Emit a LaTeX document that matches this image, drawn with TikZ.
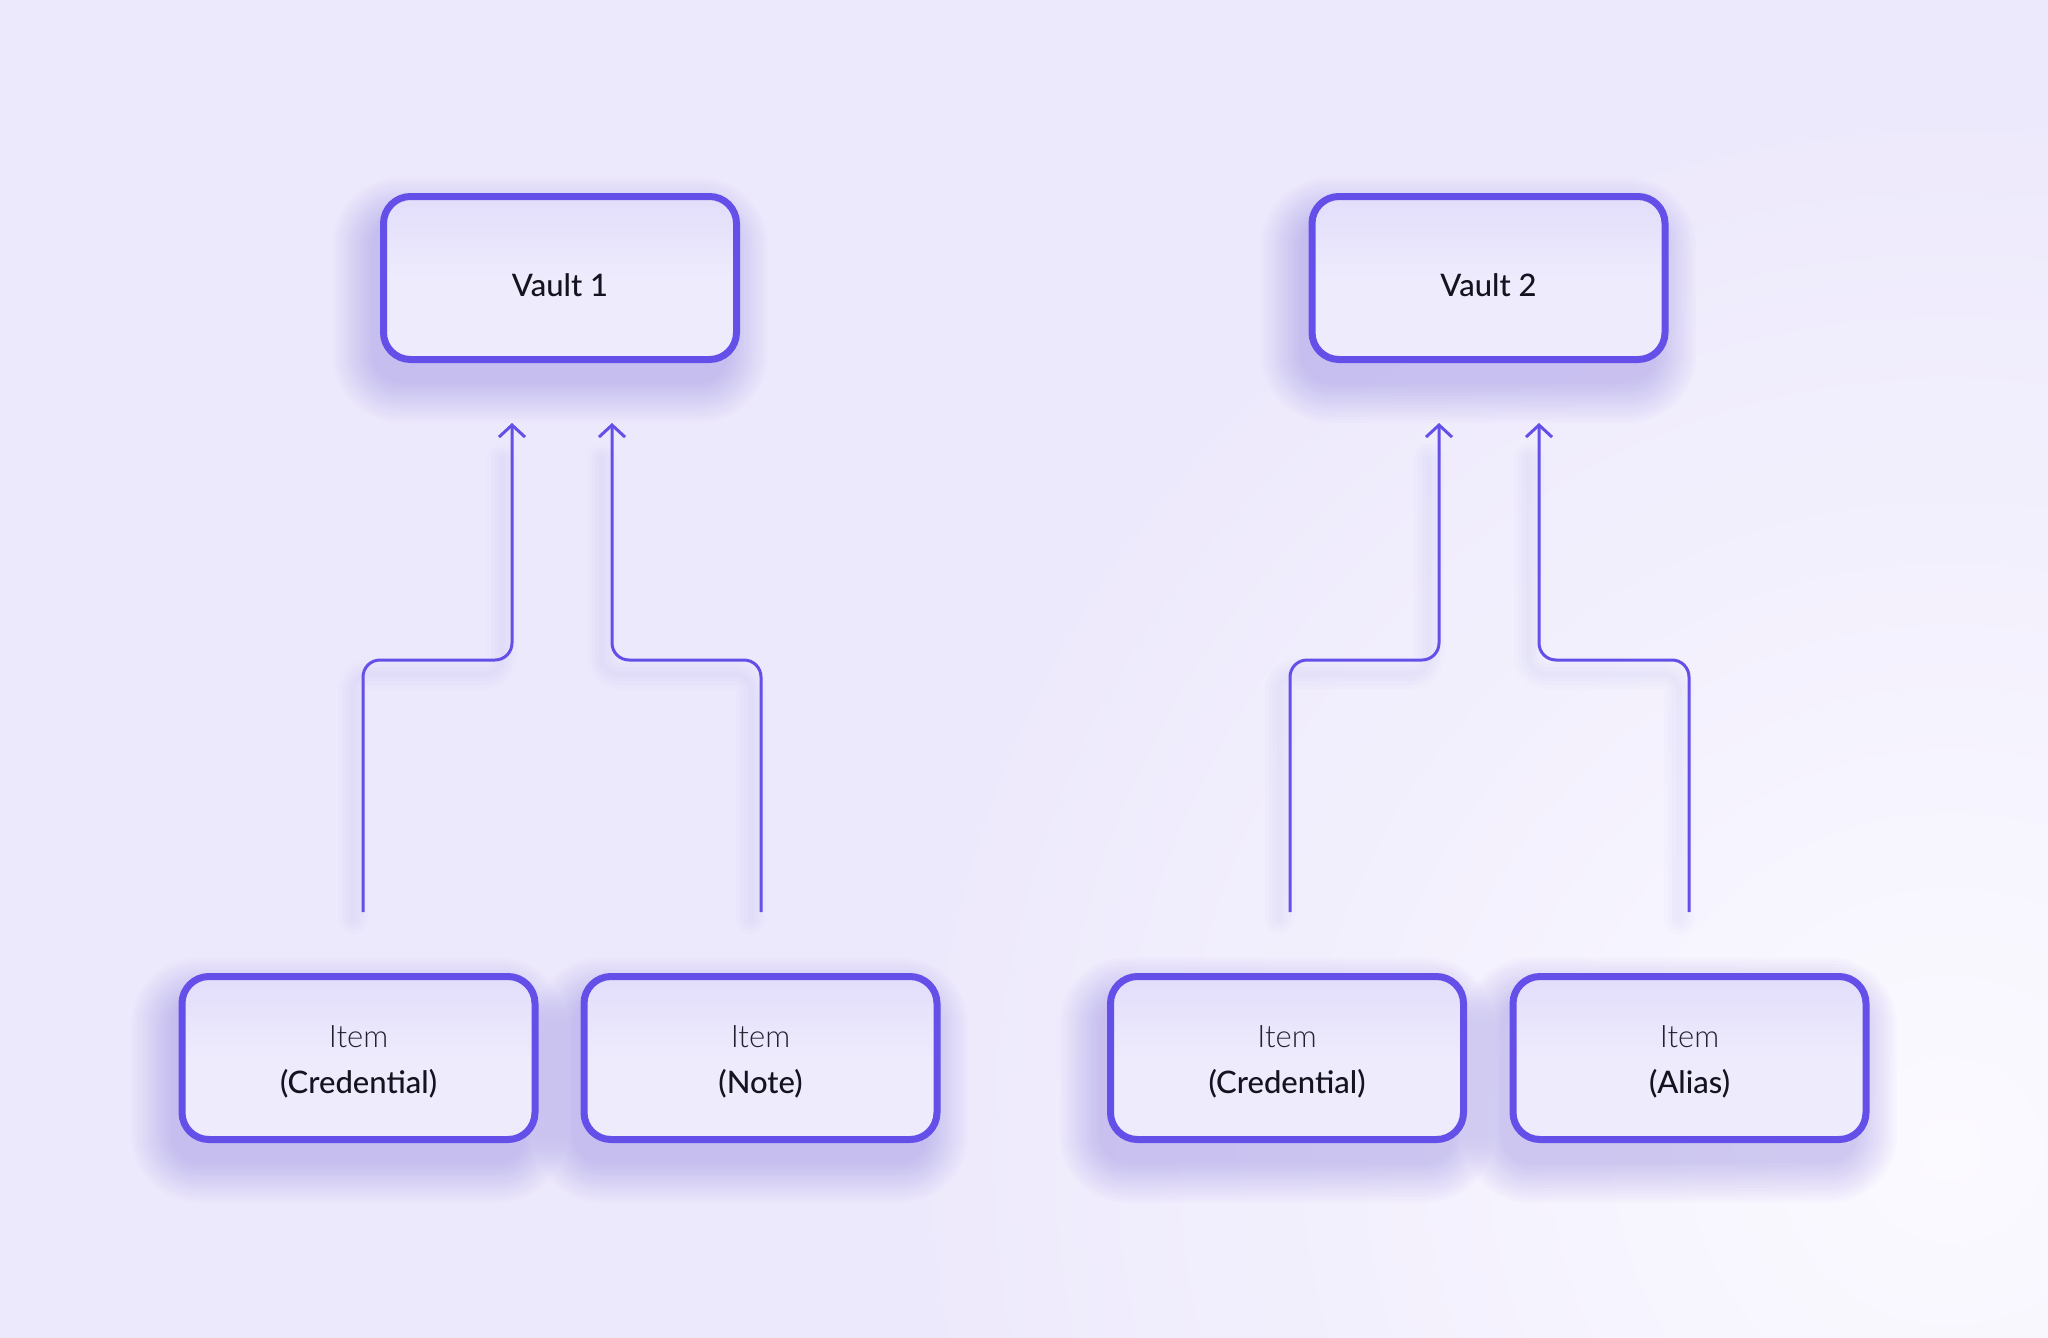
\documentclass[tikz,border=0pt]{standalone}
\usepackage{fontspec}
\setmainfont{Lato Medium}
\newfontfamily\lightf{Lato Light}
\usetikzlibrary{arrows.meta}
\definecolor{bgA}{HTML}{EDE9FC}
\definecolor{bgB}{HTML}{FBFAFF}
\definecolor{stroke}{HTML}{6450E8}
\definecolor{boxtop}{HTML}{E2DDFA}
\definecolor{boxbot}{HTML}{EEEBFD}
\definecolor{glowcol}{HTML}{7A68F0}
\definecolor{txt}{HTML}{15131F}
\definecolor{txtlight}{HTML}{24212F}
\newcommand\glowbox[4]{%
  \foreach \r in {2,5,...,41}{%
    \fill[glowcol, fill opacity=0.022, rounded corners=27+\r]
      (#1-\r-10,#2-\r+22) rectangle (#3+\r-10,#4+\r+22);
  }%
}
\tikzset{
  boxnode/.style={draw=stroke, line width=7pt, rounded corners=27pt,
    minimum width=353pt, minimum height=163pt, inner sep=0pt,
    path picture={\shade[top color=boxtop, bottom color=boxbot, middle color=boxbot]
      (path picture bounding box.north west) rectangle (path picture bounding box.south east);}},
  boxtext/.style={inner sep=0pt, text=txt, font=\fontsize{31}{46}\selectfont, align=center},
  conn/.style={draw=stroke, line width=3pt, rounded corners=17pt,
    -{Straight Barb[length=12pt,width=26pt]}},
  connglow/.style={draw=glowcol, line width=#1, rounded corners=17pt, draw opacity=0.018, line cap=round}
}
\begin{document}
\begin{tikzpicture}[x=1pt,y=-1pt]
\useasboundingbox (0,0) rectangle (2048,1338);
\fill[bgA] (0,0) rectangle (2048,1338);
\shade[inner color=bgB, outer color=bgA] (1950,1150) circle (1050);

% connector shadows
\begin{scope}[shift={(-10,14)}]
\foreach \w in {6pt,14pt,22pt,30pt}{
\draw[connglow=\w] (363,905) |- (437,660) -| (512,445);
\draw[connglow=\w] (761,905) |- (686,660) -| (612,445);
\draw[connglow=\w] (1290,905) |- (1364,660) -| (1439,445);
\draw[connglow=\w] (1689,905) |- (1614,660) -| (1539,445);
}
\end{scope}

% box glows
\glowbox{383.5}{196.5}{736.5}{359.5}
\glowbox{1312}{196.5}{1665}{359.5}
\glowbox{182}{976.5}{535}{1139.5}
\glowbox{584}{976.5}{937}{1139.5}
\glowbox{1110.5}{976.5}{1463.5}{1139.5}
\glowbox{1513}{976.5}{1866}{1139.5}

% boxes
\node[boxnode] (v1) at (560,278) {};
\node[boxnode] (v2) at (1488.5,278) {};
\node[boxnode] (i1) at (358.5,1058) {};
\node[boxnode] (i2) at (760.5,1058) {};
\node[boxnode] (i3) at (1287,1058) {};
\node[boxnode] (i4) at (1689.5,1058) {};

% texts
\node[boxtext] (v1t) at ([yshift=-7pt]v1.center) {Vault 1};
\node[boxtext] (v2t) at ([yshift=-7pt]v2.center) {Vault 2};
\node[boxtext] (i1t) at ([yshift=-4pt]i1.center) {{\lightf\color{txtlight}Item}\\(Credential)};
\node[boxtext] (i2t) at ([yshift=-4pt]i2.center) {{\lightf\color{txtlight}Item}\\(Note)};
\node[boxtext] (i3t) at ([yshift=-4pt]i3.center) {{\lightf\color{txtlight}Item}\\(Credential)};
\node[boxtext] (i4t) at ([yshift=-4pt]i4.center) {{\lightf\color{txtlight}Item}\\(Alias)};

% connector endpoints
\coordinate (s1) at (363,912);
\coordinate (s2) at (761,912);
\coordinate (s3) at (1290,912);
\coordinate (s4) at (1689,912);
\coordinate (b1) at (437,660);
\coordinate (b2) at (686,660);
\coordinate (b3) at (1364,660);
\coordinate (b4) at (1614,660);
\coordinate (t1) at (512,423);
\coordinate (t2) at (612,423);
\coordinate (t3) at (1439,423);
\coordinate (t4) at (1539,423);

\draw[conn] (s1) |- (b1) -| (t1);
\draw[conn] (s2) |- (b2) -| (t2);
\draw[conn] (s3) |- (b3) -| (t3);
\draw[conn] (s4) |- (b4) -| (t4);
\end{tikzpicture}
\end{document}
